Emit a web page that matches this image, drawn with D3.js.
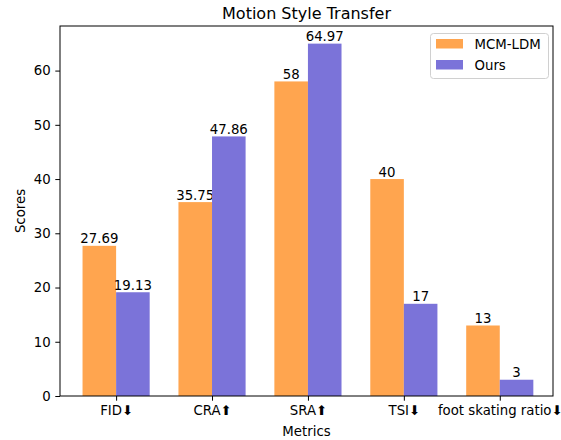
<!DOCTYPE html>
<html>
<head>
<meta charset="utf-8">
<script src="https://cdn.jsdelivr.net/npm/d3@7"></script>
<style>
  body { margin: 0; background: #fff; }
  text { font-family: "DejaVu Sans", sans-serif; fill: #000; }
</style>
</head>
<body>
<div id="chart"></div>
<script>
// chart data
var categories = ["FID\u2B07", "CRA\u2B06", "SRA\u2B06", "TSI\u2B07", "foot skating ratio\u2B07"];
var seriesNames = ["MCM-LDM", "Ours"];
var mcmValues = [27.69, 35.75, 58, 40, 13];
var oursValues = [19.13, 47.86, 64.97, 17, 3];
var labelsMcm = ["27.69", "35.75", "58", "40", "13"];
var labelsOurs = ["19.13", "47.86", "64.97", "17", "3"];
var yTicks = [0, 10, 20, 30, 40, 50, 60];
var colors = ["#FFA54F", "#7B73D9"];

var WIDTH = 561, HEIGHT = 440;
var MARGINS = {left: 60, right: 8, top: 26, bottom: 44};
var FS = "13.3px";

var barW = 0.35;
var xScale = d3.scaleLinear()
  .domain([-0.585, 4.555])
  .range([MARGINS.left, WIDTH - MARGINS.right]);
var yScale = d3.scaleLinear()
  .domain([0, 68.22])
  .range([HEIGHT - MARGINS.bottom, MARGINS.top]);

var svg = d3.select("#chart").append("svg")
  .attr("width", WIDTH)
  .attr("height", HEIGHT);

var series = [mcmValues, oursValues];
var labels = [labelsMcm, labelsOurs];
series.forEach(function(vals, s) {
  var off = s === 0 ? -barW / 2 : barW / 2;
  var g = svg.append("g");
  g.selectAll("rect").data(vals).enter().append("rect")
    .attr("x", function(d, i) { return xScale(i + off - barW / 2); })
    .attr("width", function() { return xScale(barW) - xScale(0); })
    .attr("y", function(d) { return yScale(d); })
    .attr("height", function(d) { return yScale(0) - yScale(d); })
    .attr("fill", colors[s]);
  g.selectAll("text").data(vals).enter().append("text")
    .attr("x", function(d, i) { return xScale(i + off); })
    .attr("y", function(d) { return yScale(d) - 2.5; })
    .attr("text-anchor", "middle")
    .style("font-size", FS)
    .text(function(d, i) { return labels[s][i]; });
});

// axes
var xAxis = svg.append("g")
  .attr("transform", "translate(0," + yScale(0) + ")")
  .call(d3.axisBottom(xScale).tickValues(d3.range(categories.length))
    .tickFormat(function(d) { return categories[d]; }).tickSize(4.7).tickPadding(4.7));
xAxis.select(".domain").remove();
xAxis.selectAll("text").style("font-size", FS).style("font-family", "DejaVu Sans");
xAxis.selectAll("line").attr("stroke-width", 1);

var yAxis = svg.append("g")
  .attr("transform", "translate(" + MARGINS.left + ",0)")
  .call(d3.axisLeft(yScale).tickValues(yTicks).tickSize(4.7).tickPadding(4.7));
yAxis.select(".domain").remove();
yAxis.selectAll("text").style("font-size", FS).style("font-family", "DejaVu Sans");
yAxis.selectAll("line").attr("stroke-width", 1);

// frame
svg.append("rect")
  .attr("x", MARGINS.left).attr("y", MARGINS.top)
  .attr("width", WIDTH - MARGINS.left - MARGINS.right)
  .attr("height", HEIGHT - MARGINS.top - MARGINS.bottom)
  .attr("fill", "none").attr("stroke", "#000").attr("stroke-width", 1);

// titles
svg.append("text")
  .attr("x", (MARGINS.left + WIDTH - MARGINS.right) / 2).attr("y", 19)
  .attr("text-anchor", "middle").style("font-size", "16px")
  .text("Motion Style Transfer");
svg.append("text")
  .attr("x", (MARGINS.left + WIDTH - MARGINS.right) / 2).attr("y", 436)
  .attr("text-anchor", "middle").style("font-size", FS)
  .text("Metrics");
svg.append("text")
  .attr("transform", "translate(25," + ((MARGINS.top + HEIGHT - MARGINS.bottom) / 2) + ") rotate(-90)")
  .attr("text-anchor", "middle").style("font-size", FS)
  .text("Scores");

// legend
var legend = svg.append("g").attr("transform", "translate(430.5,33.5)");
legend.append("rect")
  .attr("width", 118).attr("height", 45).attr("rx", 3)
  .attr("fill", "#fff").attr("fill-opacity", 0.8)
  .attr("stroke", "#d0d0d0").attr("stroke-width", 1);
seriesNames.forEach(function(name, i) {
  legend.append("rect")
    .attr("x", 5.5).attr("y", 5.5 + i * 21)
    .attr("width", 27).attr("height", 9.5)
    .attr("fill", colors[i]);
  legend.append("text")
    .attr("x", 44).attr("y", 15 + i * 21)
    .style("font-size", FS)
    .text(name);
});
</script>
</body>
</html>
